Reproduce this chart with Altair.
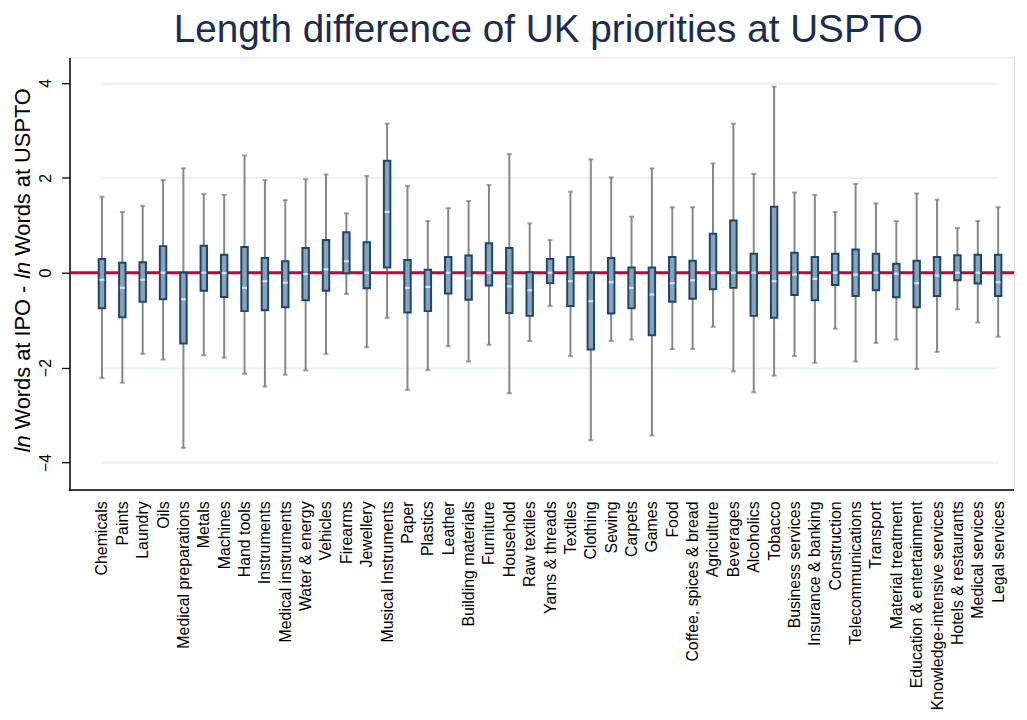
import altair as alt
import pandas as pd

categories = ["Chemicals", "Paints", "Laundry", "Oils", "Medical preparations", "Metals",
              "Machines", "Hand tools", "Instruments", "Medical instruments", "Water & energy",
              "Vehicles", "Firearms", "Jewellery", "Musical Instruments", "Paper", "Plastics",
              "Leather", "Building materials", "Furniture", "Household", "Raw textiles",
              "Yarns & threads", "Textiles", "Clothing", "Sewing", "Carpets", "Games", "Food",
              "Coffee, spices & bread", "Agriculture", "Beverages", "Alcoholics", "Tobacco",
              "Business services", "Insurance & banking", "Construction", "Telecommunications",
              "Transport", "Material treatment", "Education & entertainment",
              "Knowledge-intensive services", "Hotels & restaurants", "Medical services",
              "Legal services"]

whisker_hi = [1.60, 1.28, 1.41, 1.95, 2.20, 1.66, 1.64, 2.47, 1.95, 1.53, 1.97, 2.07, 1.25, 2.04, 3.14,
              1.83, 1.09, 1.36, 1.51, 1.85, 2.50, 1.04, 0.69, 1.71, 2.39, 2.01, 1.18, 2.20, 1.38,
              1.38, 2.30, 3.14, 2.08, 3.92, 1.69, 1.64, 1.28, 1.87, 1.46, 1.09, 1.67, 1.54, 0.94,
              1.09, 1.38]
q3 = [0.29, 0.21, 0.22, 0.56, 0.00, 0.57, 0.38, 0.54, 0.31, 0.24, 0.52, 0.69, 0.85, 0.64, 2.36,
      0.27, 0.06, 0.33, 0.36, 0.62, 0.52, 0.01, 0.29, 0.33, 0.00, 0.31, 0.11, 0.11, 0.33,
      0.25, 0.82, 1.10, 0.40, 1.39, 0.42, 0.33, 0.40, 0.49, 0.40, 0.19, 0.25, 0.33, 0.37,
      0.38, 0.38]
median = [-0.15, -0.32, -0.15, 0.00, -0.56, 0.00, -0.01, -0.32, -0.18, -0.21, -0.03, 0.07, 0.24, 0.00, 1.28,
          -0.32, -0.30, 0.00, -0.12, 0.00, -0.29, -0.37, 0.00, -0.18, -0.60, -0.20, -0.32, -0.46, -0.22,
          -0.16, 0.00, 0.00, 0.00, -0.18, -0.04, -0.13, 0.00, -0.04, 0.00, -0.02, -0.22, -0.06, 0.00,
          0.00, -0.20]
q1 = [-0.75, -0.94, -0.61, -0.56, -1.49, -0.38, -0.51, -0.81, -0.79, -0.73, -0.58, -0.38, -0.01, -0.33, 0.11,
      -0.84, -0.81, -0.44, -0.57, -0.27, -0.85, -0.91, -0.22, -0.70, -1.62, -0.86, -0.75, -1.32, -0.61,
      -0.55, -0.35, -0.32, -0.91, -0.95, -0.47, -0.58, -0.26, -0.49, -0.37, -0.52, -0.73, -0.49, -0.16,
      -0.23, -0.49]
whisker_lo = [-2.22, -2.32, -1.71, -1.83, -3.69, -1.74, -1.79, -2.13, -2.40, -2.15, -2.06, -1.71, -0.45, -1.57, -0.95,
              -2.47, -2.05, -1.55, -1.87, -1.52, -2.54, -1.44, -0.70, -1.76, -3.53, -1.44, -1.41, -3.43, -1.61,
              -1.61, -1.14, -2.08, -2.52, -2.17, -1.76, -1.90, -1.18, -1.87, -1.48, -1.41, -2.03, -1.67, -0.77,
              -1.05, -1.35]

title_text = "Length difference of UK priorities at USPTO"
y_ticks = [-4, -2, 0, 2, 4]

df = pd.DataFrame({"cat": categories, "lo": whisker_lo, "q1": q1, "med": median,
                   "q3": q3, "hi": whisker_hi})

FONT = "Liberation Sans"
W, H = 952, 436

xscale = alt.Scale(type="point", padding=0, range=[32.7, 936.0])
xenc = alt.X("cat:N", sort=categories, scale=xscale,
             axis=alt.Axis(title=None, labelAngle=270, labelFontSize=16, labelFont=FONT,
                           labelColor="#000000", ticks=False, labelPadding=11, labelLimit=400,
                           domain=False, grid=False))
yscale = alt.Scale(domain=[-4.58, 4.537], nice=False, zero=False)
yaxis = alt.Axis(title=None, values=y_ticks, labelAngle=270, labelAlign="center",
                 labelBaseline="bottom", labelFontSize=16, labelFont=FONT, labelColor="#000000",
                 tickSize=8, tickColor="#000000", tickWidth=1.3, labelPadding=8,
                 domainColor="#000000", domainWidth=1.5, grid=True, gridColor="#eaf1f3",
                 gridWidth=2)

base = alt.Chart(df)

whiskers = base.mark_rule(color="#878787", strokeWidth=2).encode(
    x=xenc, y=alt.Y("lo:Q", scale=yscale, axis=yaxis), y2="hi:Q")
cap_hi = base.mark_tick(color="#7a7a7a", size=5, thickness=2).encode(
    x=alt.X("cat:N", sort=categories, scale=xscale), y=alt.Y("hi:Q", scale=yscale))
cap_lo = base.mark_tick(color="#7a7a7a", size=5, thickness=2).encode(
    x=alt.X("cat:N", sort=categories, scale=xscale), y=alt.Y("lo:Q", scale=yscale))

zero_line = alt.Chart(pd.DataFrame({"z": [0]})).mark_rule(
    color="#c10534", strokeWidth=3).encode(y=alt.Y("z:Q", scale=yscale))

bottom_line = alt.Chart(pd.DataFrame({"z": [0]})).mark_rule(
    color="#000000", strokeWidth=1.5).encode(x=alt.value(-0.75), x2=alt.value(W), y=alt.value(H))

boxes = base.mark_bar(size=6.5, fill="#8aa1b9", stroke="#1a476f", strokeWidth=2).encode(
    x=alt.X("cat:N", sort=categories, scale=xscale), y=alt.Y("q1:Q", scale=yscale), y2="q3:Q")
medians = base.mark_tick(color="#ffffff", size=5, thickness=2.2).encode(
    x=alt.X("cat:N", sort=categories, scale=xscale), y=alt.Y("med:Q", scale=yscale))

title = alt.Chart(pd.DataFrame({"t": [title_text]})).mark_text(
    font=FONT, fontSize=39, color="#1c2b52", align="center", baseline="alphabetic"
).encode(text="t:N", x=alt.value(482.5), y=alt.value(-15.5))

NB = "\u00a0"
ytitle_parts = [("ln" + NB, "italic", 398.0),
                ("Words at IPO" + NB + "-" + NB, "normal", 375.0),
                ("ln" + NB, "italic", 223.2),
                ("Words at USPTO", "normal", 200.0)]
ytitle_layers = []
for txt, style, ypos in ytitle_parts:
    ytitle_layers.append(
        alt.Chart(pd.DataFrame({"t": [txt]})).mark_text(
            font=FONT, fontSize=22, fontStyle=style, color="#000000", angle=270,
            align="left", baseline="alphabetic"
        ).encode(text="t:N", x=alt.value(-39.5), y=alt.value(ypos))
    )

chart = alt.layer(whiskers, cap_hi, cap_lo, zero_line, bottom_line, boxes, medians, title,
                  *ytitle_layers).properties(
    width=W, height=H,
    autosize=alt.AutoSizeParams(type="none"),
    padding={"left": 62, "top": 47, "right": 5, "bottom": 229},
).configure_view(stroke=None).configure(background="#ffffff")

chart.save("out.html", embed_options={"renderer": "svg", "actions": False})
